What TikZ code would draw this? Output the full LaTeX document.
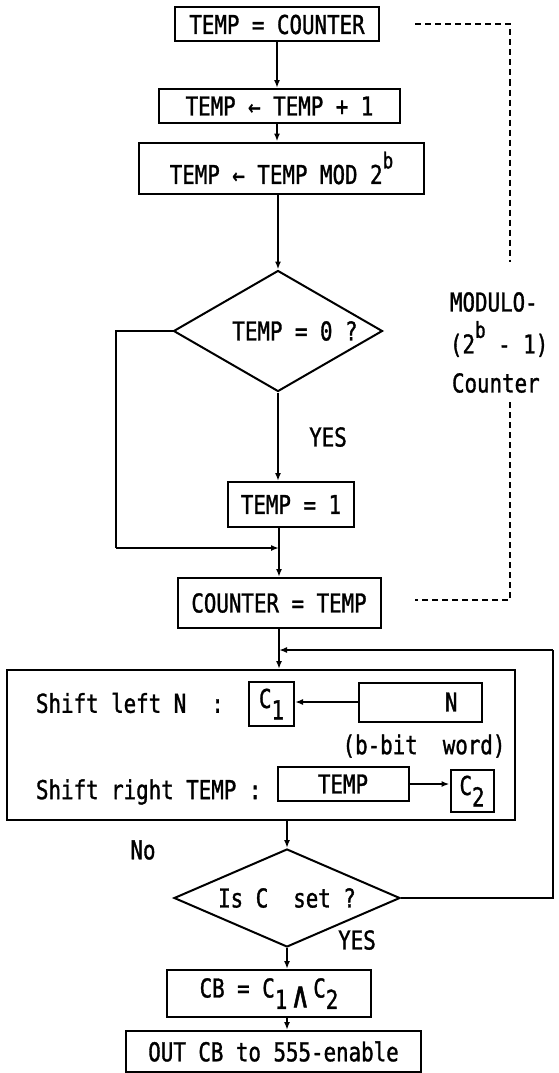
\documentclass[tikz,border=0pt]{standalone}
\usepackage{fontspec}
\setmainfont[FakeStretch=0.8,FakeBold=1.2]{DejaVu Sans Mono}
\usetikzlibrary{arrows.meta,shapes.geometric}

\newcommand{\sub}[1]{\raisebox{-0.8ex}{#1}}
\newcommand{\pow}[1]{\raisebox{1.1ex}{\fontsize{22}{22}\selectfont #1}}

\tikzset{
  box/.style={draw, inner sep=0pt},
  test/.style={draw, diamond, inner sep=0pt},
  note/.style={inner sep=0pt},
}

\begin{document}
\begin{tikzpicture}[x=1pt,y=-1pt,>={Latex[length=8pt,width=6pt]},line width=2pt,
    font=\fontsize{26}{30}\selectfont]
  \useasboundingbox (0,0) rectangle (558,1073);

  \node[box, minimum width=204pt, minimum height=34pt] (a) at (277,24.5) {TEMP = COUNTER};
  \node[box, minimum width=241pt, minimum height=34pt] (b) at (279.5,106) {TEMP ← TEMP + 1};
  \node[box, minimum width=285pt, minimum height=51pt] (c) at (281.5,168) {TEMP ← TEMP MOD 2\pow{b}};
  \node[test, minimum width=209pt, minimum height=121pt] (d) at (278,331) {\makebox[0pt]{\hspace{34pt}TEMP = 0 ?}};
  \node[box, minimum width=126pt, minimum height=45pt] (e) at (291,504.5) {TEMP = 1};
  \node[box, minimum width=203pt, minimum height=50pt] (f) at (279,603) {COUNTER = TEMP};
  \node[note] (yes1) at (328,437) {YES};

  % modulo counter bracket
  \node[note, anchor=west] (m) at (449,302) {MODULO-};
  \node[note, anchor=west] (p) at (449,339) {(2\pow{b} - 1)};
  \node[note, anchor=west] (q) at (451,383) {Counter};
  \coordinate (m1) at (415,24.5);
  \coordinate (m2) at (510,24.5);
  \coordinate (m3) at (510,262);
  \coordinate (m4) at (510,402);
  \coordinate (m5) at (510,600);
  \coordinate (m6) at (415,600);
  \draw[dash pattern=on 6pt off 4pt] (m1) -- (m2) -- (m3);
  \draw[dash pattern=on 6pt off 4pt] (m4) -- (m5) -- (m6);

  % shift box
  \node[box, minimum width=508pt, minimum height=150pt] (g) at (261,745) {};
  \node[note, anchor=west] (sl) at (35,703) {Shift left N\ \ :};
  \node[box, minimum width=45pt, minimum height=44pt] (c1) at (271.5,704) {C\sub{1}};
  \node[box, minimum width=123pt, minimum height=39pt] (n) at (420.5,702) {\makebox[74pt][r]{N}};
  \node[note] (w) at (424,746) {(b-bit\ \ word)};
  \node[note, anchor=west] (sr) at (35,792) {Shift right TEMP :};
  \node[box, minimum width=131pt, minimum height=34pt] (t) at (343,784) {TEMP};
  \node[box, minimum width=43pt, minimum height=42pt] (c2) at (472,791) {C\sub{2}};

  \node[note] (no) at (143,850) {No};
  \node[test, minimum width=226pt, minimum height=98pt] (h) at (287,898) {\makebox[0pt]{Is C\ \ set ?}};
  \node[note] (yes2) at (357,940) {YES};
  \node[box, minimum width=204pt, minimum height=47pt] (cb) at (269,993.5)
    {CB = C\sub{1}\,\raisebox{-0.7ex}{\fontsize{36}{36}\selectfont ∧}\,C\sub{2}};
  \node[box, minimum width=295pt, minimum height=41pt] (o) at (273.5,1051.5) {OUT CB to 555-enable};

  \coordinate (l1) at (116,331);
  \coordinate (l2) at (116,548);
  \coordinate (r1) at (553,898);
  \coordinate (r2) at (553,650);

  \draw[->] (a.south) -- (a.south |- b.north);
  \draw[->] (b.south -| a.south) -- (a.south |- c.north);
  \draw[->] (c.south -| d.north) -- (d.north);
  \draw[->] (d.south) -- (d.south |- e.north);
  \draw (d.west) -- (l1) -- (l2);
  \draw[->] (l2) -- (l2 -| f.north);
  \draw[->] (e.south -| f.north) -- (f.north);
  \draw[->] (f.south) -- (f.south |- g.north);
  \draw[->] (n.west) -- (n.west -| c1.east);
  \draw[->] (t.east) -- (t.east -| c2.west);
  \draw[->] (g.south -| h.north) -- (h.north);
  \draw (h.east) -- (r1) -- (r2);
  \draw[->] (r2) -- (r2 -| f.south);
  \draw[->] (h.south) -- (h.south |- cb.north);
  \draw[->] (h.south |- cb.south) -- (h.south |- o.north);
\end{tikzpicture}
\end{document}
